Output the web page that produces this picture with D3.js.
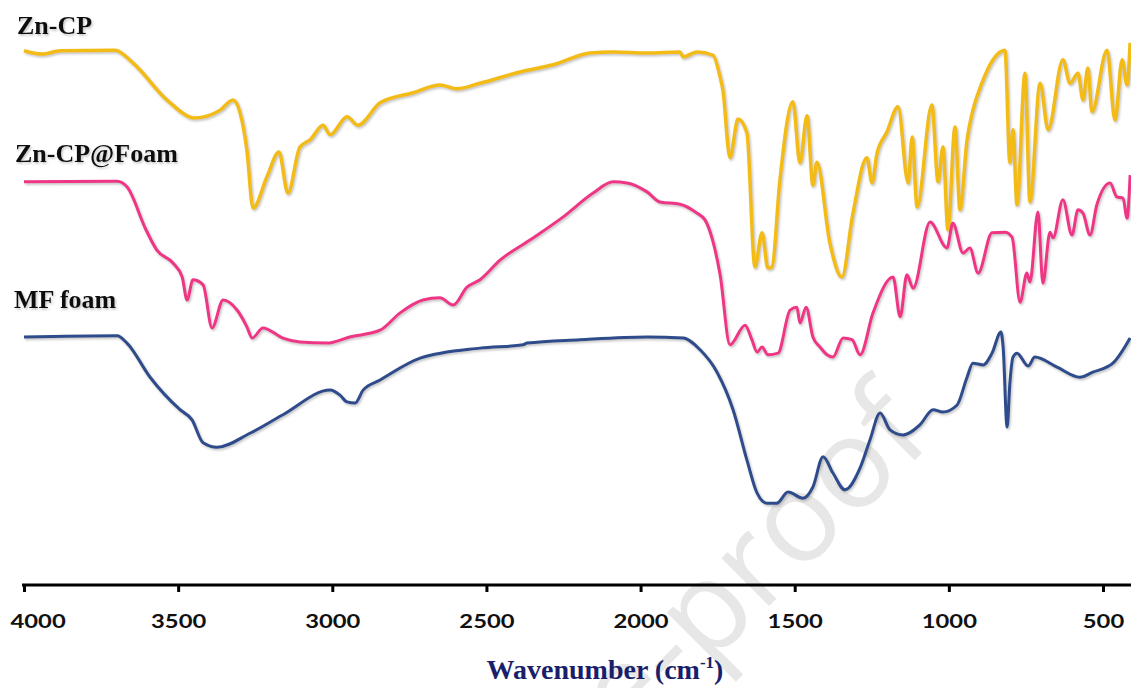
<!DOCTYPE html>
<html>
<head>
<meta charset="utf-8">
<script src="https://cdn.jsdelivr.net/npm/d3@7"></script>
<style>
  html, body { margin: 0; padding: 0; background: #fff; }
  svg { display: block; }
</style>
</head>
<body>
<div id="chart"></div>
<script>
// wavenumber (cm-1) and transmittance (a.u., offset per sample)
const znCpWn = [4000, 3942, 3883, 3705, 3646, 3536, 3445, 3364, 3322, 3299, 3277, 3257, 3212, 3173, 3144, 3105, 3072, 3030, 3007, 2952, 2917, 2845, 2738, 2651, 2595, 2521, 2391, 2284, 2164, 2089, 1979, 1872, 1862, 1817, 1765, 1742, 1733, 1710, 1684, 1655, 1629, 1606, 1587, 1574, 1548, 1506, 1483, 1460, 1441, 1428, 1386, 1347, 1311, 1266, 1249, 1233, 1201, 1165, 1132, 1119, 1103, 1055, 1035, 1019, 1003, 980, 964, 941, 922, 893, 857, 818, 802, 792, 779, 753, 737, 704, 678, 630, 607, 581, 565, 549, 536, 487, 461, 438, 422, 412];
const znCpT = [95.4, 94.8, 95.4, 95.5, 93.2, 86.6, 83.4, 84.8, 86.6, 84.3, 77.7, 67.3, 72.9, 77.3, 70.0, 78.2, 79.5, 82.1, 80.4, 83.6, 82.1, 86.1, 87.9, 89.3, 88.6, 89.6, 91.6, 92.9, 95.0, 95.2, 95.0, 95.2, 94.3, 95.2, 94.6, 90.7, 88.4, 76.3, 83.2, 80.7, 56.8, 62.9, 56.6, 56.8, 72.3, 86.3, 75.4, 83.8, 71.4, 75.5, 61.1, 55.0, 66.4, 76.3, 71.8, 77.1, 80.9, 85.4, 71.8, 80.0, 67.5, 85.7, 72.0, 78.2, 63.4, 81.8, 67.0, 79.5, 84.8, 89.6, 93.8, 95.5, 75.4, 81.3, 67.9, 91.4, 68.4, 89.6, 81.3, 93.8, 89.6, 91.4, 86.6, 92.3, 84.5, 95.5, 83.0, 93.8, 89.3, 96.8];

const foamWn = [4000, 3698, 3666, 3604, 3569, 3517, 3487, 3471, 3452, 3419, 3390, 3354, 3309, 3277, 3260, 3225, 3160, 3105, 3017, 2943, 2845, 2780, 2706, 2651, 2608, 2563, 2521, 2456, 2359, 2252, 2154, 2089, 2044, 1979, 1937, 1872, 1817, 1791, 1765, 1742, 1710, 1661, 1639, 1622, 1606, 1587, 1554, 1515, 1493, 1483, 1463, 1441, 1418, 1395, 1376, 1343, 1314, 1288, 1246, 1181, 1158, 1136, 1116, 1061, 1006, 987, 954, 932, 905, 860, 818, 795, 769, 747, 737, 711, 695, 672, 662, 630, 601, 581, 565, 542, 520, 477, 455, 435, 422, 412];
const foamT = [72.0, 72.1, 71.1, 63.4, 59.8, 57.5, 55.0, 50.9, 54.5, 53.6, 45.9, 50.9, 49.1, 46.1, 44.1, 45.9, 44.1, 43.4, 43.2, 44.3, 45.5, 48.6, 50.9, 51.3, 50.0, 53.2, 54.5, 58.0, 61.6, 65.7, 70.0, 72.0, 71.8, 70.2, 68.4, 68.0, 66.4, 65.2, 61.3, 55.4, 42.9, 46.4, 43.8, 41.6, 42.5, 41.1, 41.4, 49.1, 49.6, 46.8, 49.6, 44.3, 42.5, 41.1, 40.7, 44.1, 43.8, 41.1, 48.6, 55.0, 47.9, 55.4, 53.0, 64.8, 60.2, 64.6, 59.3, 60.2, 55.7, 62.9, 63.0, 62.1, 50.5, 55.7, 54.1, 66.6, 53.9, 63.0, 62.0, 68.8, 62.5, 67.0, 66.4, 62.5, 67.9, 71.8, 69.3, 69.1, 65.5, 73.2];

const mfWn = [4000, 3698, 3666, 3591, 3494, 3455, 3419, 3374, 3267, 3160, 3007, 2975, 2952, 2926, 2900, 2845, 2715, 2521, 2381, 2368, 2197, 1979, 1862, 1807, 1752, 1700, 1655, 1622, 1590, 1558, 1522, 1473, 1441, 1408, 1376, 1337, 1288, 1256, 1223, 1191, 1149, 1094, 1051, 1019, 974, 941, 922, 889, 860, 831, 824, 811, 802, 792, 779, 743, 721, 649, 575, 533, 468, 412];
const mfT = [44.3, 44.5, 43.2, 37.1, 31.3, 29.5, 25.4, 24.6, 27.1, 30.4, 34.8, 33.9, 32.7, 32.5, 34.8, 36.6, 40.5, 42.3, 42.9, 43.2, 43.8, 44.3, 44.1, 42.0, 38.0, 31.3, 22.3, 16.4, 14.6, 14.6, 16.6, 15.5, 17.5, 22.9, 20.0, 17.0, 20.9, 25.9, 30.7, 27.7, 26.8, 28.6, 31.3, 30.9, 32.1, 37.1, 39.6, 39.3, 41.4, 45.2, 42.5, 28.2, 36.1, 40.7, 41.4, 39.1, 40.7, 38.9, 37.1, 38.0, 39.6, 44.1];

const seriesNames = ['Zn-CP', 'Zn-CP@Foam', 'MF foam'];
const seriesColors = ['#F3BB14', '#EF3685', '#2E4C8B'];
const tickValues = [4000, 3500, 3000, 2500, 2000, 1500, 1000, 500];

const width = 1131, height = 688;
const axisY = 585;

const svg = d3.select('#chart').append('svg')
  .attr('width', width)
  .attr('height', height);

const defs = svg.append('defs');
const shadow = defs.append('filter').attr('id', 'shadow')
  .attr('x', '-5%').attr('y', '-5%').attr('width', '110%').attr('height', '110%');
shadow.append('feDropShadow')
  .attr('dx', 1.2).attr('dy', 1.6).attr('stdDeviation', 0.9)
  .attr('flood-color', '#777').attr('flood-opacity', 0.45);

const x = d3.scaleLinear().domain([4000, 400]).range([24, 24 + 3600 * (1079 / 3500)]);
const y = d3.scaleLinear().domain([0, 100]).range([axisY, 25]);

// faint watermark behind the plot (runs off the bottom edge as in the source)
svg.append('text')
  .attr('transform', 'translate(935,440) rotate(-45)')
  .attr('text-anchor', 'end')
  .attr('font-family', '"Open Sans", Lato, sans-serif')
  .attr('font-size', 126)
  .attr('fill', '#e7e7e7')
  .text('Journal Pre-proof');

const line = d3.line()
  .x(d => x(d[0]))
  .y(d => y(d[1]))
  .curve(d3.curveMonotoneX);

const series = [
  { name: seriesNames[0], color: seriesColors[0], width: 3.5, pts: d3.zip(znCpWn, znCpT) },
  { name: seriesNames[1], color: seriesColors[1], width: 3, pts: d3.zip(foamWn, foamT) },
  { name: seriesNames[2], color: seriesColors[2], width: 3, pts: d3.zip(mfWn, mfT) }
];

svg.append('g')
  .selectAll('path')
  .data(series)
  .enter()
  .append('path')
  .attr('d', d => line(d.pts))
  .attr('fill', 'none')
  .attr('stroke', d => d.color)
  .attr('stroke-width', d => d.width)
  .attr('stroke-linejoin', 'round')
  .attr('filter', 'url(#shadow)');

// sample names, placed above each trace's plateau
const labelPos = [[17, 34], [15, 162], [14, 308]];
svg.append('g')
  .selectAll('text')
  .data(series)
  .enter()
  .append('text')
  .attr('x', (d, i) => labelPos[i][0])
  .attr('y', (d, i) => labelPos[i][1])
  .attr('font-family', '"Liberation Serif", "Times New Roman", serif')
  .attr('font-weight', 'bold')
  .attr('font-size', 26)
  .attr('fill', '#111')
  .attr('filter', 'url(#shadow)')
  .text(d => d.name);

const xAxis = d3.axisBottom(x)
  .tickValues(tickValues)
  .tickSize(7)
  .tickSizeOuter(0)
  .tickFormat(d3.format('d'));

const gx = svg.append('g')
  .attr('transform', `translate(0,${axisY})`)
  .call(xAxis);

gx.select('.domain')
  .attr('stroke', '#000')
  .attr('stroke-width', 3)
  .attr('d', `M22,0H${width}`);
gx.selectAll('.tick line').attr('stroke', '#000').attr('stroke-width', 3);

// labels are drawn a bit wide, like the source figure
const sx = 1.22;
gx.selectAll('.tick text')
  .attr('transform', `scale(${sx},1)`)
  .attr('y', 43)
  .attr('dy', 0)
  .attr('fill', '#111')
  .attr('font-family', 'Lato, "Open Sans", sans-serif')
  .attr('font-weight', 'bold')
  .attr('font-size', 19.5);

// first label is pushed inside the left edge
gx.selectAll('.tick text')
  .filter(d => d === 4000)
  .attr('text-anchor', 'start')
  .attr('x', (10 - x(4000)) / sx);

const title = svg.append('text')
  .attr('x', 605)
  .attr('y', 679)
  .attr('text-anchor', 'middle')
  .attr('font-family', '"Liberation Serif", "Times New Roman", serif')
  .attr('font-weight', 'bold')
  .attr('font-size', 28)
  .attr('fill', '#1B1F6B');
title.append('tspan').text('Wavenumber (cm');
title.append('tspan').attr('font-size', 17).attr('dy', -11).text('-1');
title.append('tspan').attr('dy', 11).text(')');
</script>
</body>
</html>
